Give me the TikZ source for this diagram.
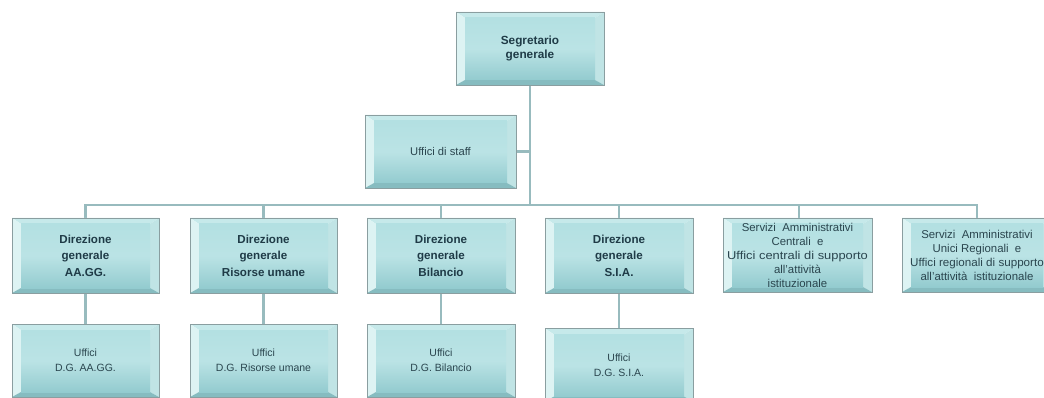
\documentclass[tikz,border=0pt]{standalone}
\usepackage{graphicx}
\usepackage{fontspec}
\setmainfont{Liberation Sans}
\usetikzlibrary{backgrounds}
\definecolor{txtc}{HTML}{2A454E}
\definecolor{boldc}{HTML}{1F3B47}
\definecolor{linec}{HTML}{98BBBE}
\definecolor{edgec}{HTML}{8A9EA0}
\definecolor{bvtop}{HTML}{C6E9EA}
\definecolor{bvleft}{HTML}{DDF3F3}
\definecolor{bvright}{HTML}{C0E4E5}
\definecolor{bvbot}{HTML}{86BCC0}
\definecolor{facetop}{HTML}{B3E0E2}
\definecolor{facebot}{HTML}{93CBCF}
\tikzset{
  orgbox/.style={draw=edgec, line width=0.6pt, align=center, text=txtc, inner sep=1pt,
    minimum width=148pt, minimum height=73pt,
    path picture={
      \path (path picture bounding box.south west) coordinate (bvA)
            (path picture bounding box.north east) coordinate (bvC);
      \path (bvA |- bvC) coordinate (bvB) (bvC |- bvA) coordinate (bvD);
      \path ([shift={(9pt,5pt)}]bvA) coordinate (bvIA)
            ([shift={(9pt,-6pt)}]bvB) coordinate (bvIB)
            ([shift={(-9pt,-6pt)}]bvC) coordinate (bvIC)
            ([shift={(-9pt,5pt)}]bvD) coordinate (bvID);
      \fill[bvtop] (bvB) -- (bvC) -- (bvIC) -- (bvIB) -- cycle;
      \fill[bvleft] (bvA) -- (bvB) -- (bvIB) -- (bvIA) -- cycle;
      \fill[bvright] (bvC) -- (bvD) -- (bvID) -- (bvIC) -- cycle;
      \fill[bvbot] (bvA) -- (bvD) -- (bvID) -- (bvIA) -- cycle;
      \shade[top color=facetop, bottom color=facebot, middle color=facetop!90!white] (bvIA) rectangle (bvIC);
    }},
  boldbox/.style={orgbox, text=boldc, font=\bfseries\fontsize{11.6}{16.6}\selectfont},
  topbox/.style={orgbox, text=boldc, font=\bfseries\fontsize{11.8}{14}\selectfont},
  plainbox/.style={orgbox, font=\fontsize{11.2}{14}\selectfont},
  widebox/.style={orgbox, font=\fontsize{11.4}{14}\selectfont},
  lowbox/.style={orgbox, font=\fontsize{10.5}{15}\selectfont},
  conn/.style={draw=linec, line width=2.8pt}
}
\begin{document}
\begin{tikzpicture}[x=1pt,y=-1pt]
\useasboundingbox (0,0) rectangle (1044,398);
\coordinate (bus) at (530,205);
\node[topbox] (seg) at (530,48.5) {Segretario\\generale};
\node[plainbox, minimum width=151pt] (staff) at (440.5,151.5) {Uffici di staff};
\node[boldbox, minimum height=75pt, minimum width=147pt] (d1) at (85.5,255.5) {Direzione\\generale\\AA.GG.};
\node[boldbox, minimum height=75pt, minimum width=147pt] (d2) at (263.5,255.5) {Direzione\\generale\\Risorse umane};
\node[boldbox, minimum height=75pt] (d3) at (441,255.5) {Direzione\\generale\\Bilancio};
\node[boldbox, minimum height=75pt] (d4) at (619,255.5) {Direzione\\generale\\S.I.A.};
\node[widebox, minimum height=74pt, minimum width=149pt] (s5) at (797.5,255) {Servizi~ Amministrativi\\Centrali~ e\\\scalebox{1.13}[1]{Uffici centrali di supporto}\\all'attività\\istituzionale};
\node[widebox, minimum height=74pt, minimum width=150pt] (s6) at (977,255) {Servizi~ Amministrativi\\Unici Regionali~ e\\\scalebox{1.02}[1]{Uffici regionali di supporto}\\all'attività~ istituzionale};
\node[lowbox, minimum width=147pt] (u1) at (85.5,360.5) {Uffici\\D.G. AA.GG.};
\node[lowbox, minimum width=147pt] (u2) at (263.5,360.5) {Uffici\\D.G. Risorse umane};
\node[lowbox] (u3) at (441,360.5) {Uffici\\D.G. Bilancio};
\node[lowbox] (u4) at (619,365) {Uffici\\D.G. S.I.A.};
\begin{scope}[on background layer]
  \draw[conn] (seg.south) -- (bus);
  \draw[conn] (staff.east) -- (staff.east -| seg.south);
  \draw[conn] (d1.north) |- (bus);
  \draw[conn] (d2.north) |- (bus);
  \draw[conn] (d3.north) |- (bus);
  \draw[conn] (d4.north) |- (bus);
  \draw[conn] ([xshift=1.5pt]s5.north) |- (bus);
  \draw[conn] (s6.north) |- (bus);
  \draw[conn] (d1.south) -- (u1.north);
  \draw[conn] (d2.south) -- (u2.north);
  \draw[conn] (d3.south) -- (u3.north);
  \draw[conn] (d4.south) -- (u4.north);
\end{scope}
\end{tikzpicture}
\end{document}
